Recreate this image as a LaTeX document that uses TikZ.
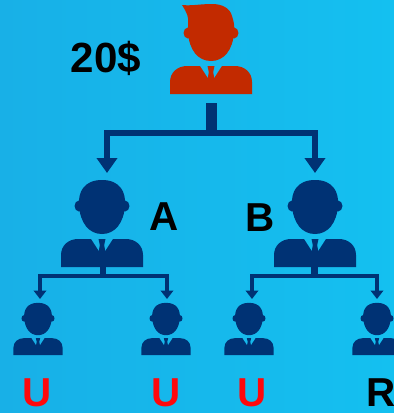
\documentclass[tikz,border=0pt]{standalone}
\usepackage{fontspec}
\setmainfont{Liberation Sans}
\usetikzlibrary{arrows.meta}
\definecolor{skyleft}{RGB}{24,176,231}
\definecolor{skyright}{RGB}{20,192,240}
\definecolor{navy}{RGB}{0,50,116}
\definecolor{bossred}{RGB}{194,42,0}
\definecolor{userred}{RGB}{255,8,12}
\tikzset{
  x=0.02cm, y=-0.02cm,
  pics/person/.style={code={
    \path[pic actions] (0,-87) .. controls (-18,-87) and (-24,-75) .. (-23,-62) .. controls (-22,-44) and (-13,-33) .. (0,-33) .. controls (13,-33) and (22,-44) .. (23,-62) .. controls (24,-75) and (18,-87) .. (0,-87) -- cycle;
    \path[pic actions] (-23,-61) ellipse [x radius=4.5, y radius=5.5];
    \path[pic actions] (23,-61) ellipse [x radius=4.5, y radius=5.5];
    \path[pic actions] (-41,0) -- (-41,-12) .. controls (-41,-22) and (-33,-28) .. (-24,-28) -- (-11,-28) -- (0,-11) -- (11,-28) -- (24,-28) .. controls (33,-28) and (41,-22) .. (41,-12) -- (41,0) -- cycle;
    \path[pic actions] (-3.5,-28) -- (3.5,-28) -- (2.2,-22) -- (4,-11) -- (0,-6) -- (-4,-11) -- (-2.2,-22) -- cycle;
  }},
  bigarrow/.style={draw=navy, line width=0.13cm, -{Triangle[width=0.4cm, length=0.3cm]}},
  smallbar/.style={draw=navy, line width=0.14cm},
  smallarrow/.style={draw=navy, line width=0.075cm, -{Triangle[width=0.25cm, length=0.17cm]}},
  money/.style={font=\bfseries\fontsize{24}{24}\selectfont, text=black, inner sep=0pt},
  tag/.style={font=\bfseries\fontsize{23}{23}\selectfont, text=black, inner sep=0pt},
  usertag/.style={tag, text=userred}
}
\begin{document}
\begin{tikzpicture}
  \path[use as bounding box, clip] (0,0) rectangle (394,413);
  \shade[left color=skyleft, right color=skyright] (0,0) rectangle (394,413);

  \coordinate (boss) at (211,94);
  \coordinate (a) at (102,267);
  \coordinate (b) at (315,267);
  \coordinate (u1) at (38,355);
  \coordinate (u2) at (166,355);
  \coordinate (u3) at (249,355);
  \coordinate (r1) at (377,355);

  \pic[fill=bossred] at (boss) {person};
  \fill[bossred] (182,5) .. controls (192,6) and (200,4) .. (212,4) .. controls (222,4) and (230,8) .. (232,16) .. controls (234,22) and (235,28) .. (234,34) -- (188,34) -- (188,24) .. controls (189,17) and (187,13) .. (182,5) -- cycle;
  \pic[fill=navy] at (a) {person};
  \pic[fill=navy] at (b) {person};
  \pic[fill=navy, scale=0.6] at (u1) {person};
  \pic[fill=navy, scale=0.6] at (u2) {person};
  \pic[fill=navy, scale=0.6] at (u3) {person};
  \pic[fill=navy, scale=0.6] at (r1) {person};

  \coordinate (bossfoot) at (211,103);
  \coordinate (bosssplit) at (211,133);
  \coordinate (atip) at (107,173);
  \coordinate (btip) at (315,173);
  \draw[draw=navy, line width=0.22cm] (bossfoot) -- (bosssplit);
  \draw[bigarrow] (bosssplit) -| (atip);
  \draw[bigarrow] (bosssplit) -| (btip);

  \coordinate (afoot) at (103,258);
  \coordinate (asplit) at (103,276);
  \coordinate (bfoot) at (314,258);
  \coordinate (bsplit) at (314,276);
  \coordinate (u1tip) at (40,299);
  \coordinate (u2tip) at (167,299);
  \coordinate (u3tip) at (252,299);
  \coordinate (r1tip) at (377,299);
  \draw[smallbar] (afoot) -- (asplit);
  \draw[smallbar] (bfoot) -- (bsplit);
  \draw[smallarrow] (asplit) -| (u1tip);
  \draw[smallarrow] (asplit) -| (u2tip);
  \draw[smallarrow] (bsplit) -| (u3tip);
  \draw[smallarrow] (bsplit) -| (r1tip);

  \node[money] (amount) at (106,58) {20\$};
  \node[tag] (alabel) at (164,217) {A};
  \node[tag] (blabel) at (260,218) {B};
  \node[usertag] (u1label) at (37,392.5) {U};
  \node[usertag] (u2label) at (166,392.5) {U};
  \node[usertag] (u3label) at (252,392.5) {U};
  \node[tag] (r1label) at (381,392.5) {R};
\end{tikzpicture}
\end{document}
